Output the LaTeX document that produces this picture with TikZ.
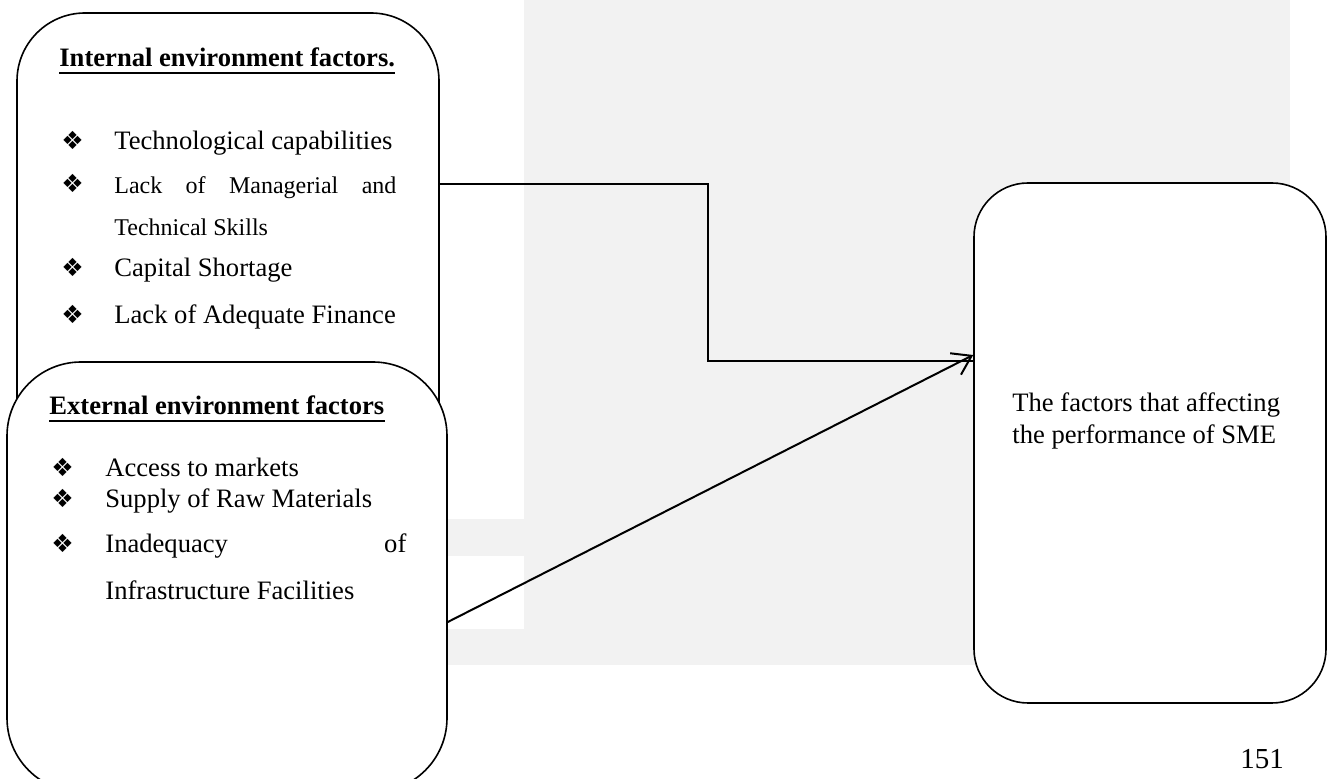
\documentclass[tikz,border=0pt]{standalone}
\usepackage{fontspec}
\setmainfont{Liberation Serif}
\newfontfamily\dejavu{DejaVu Sans}
\usetikzlibrary{arrows.meta}
\definecolor{pagegray}{RGB}{242,242,242}
\begin{document}
\begin{tikzpicture}[x=0.5pt,y=-0.5pt,
  box/.style={draw, line width=0.8pt, fill=white, inner sep=0pt, rectangle},
  txt/.style={inner sep=0pt, anchor=base west, font=\fontsize{13.3}{16}\selectfont},
  smalltxt/.style={inner sep=0pt, anchor=base west, font=\fontsize{12}{14}\selectfont},
  ttl/.style={inner sep=0pt, anchor=base west, font=\fontsize{13.3}{16}\selectfont\bfseries},
  bul/.style={inner sep=0pt, anchor=base west, font=\dejavu\fontsize{12.5}{14}\selectfont},
  uline/.style={line width=0.9pt},
  conn/.style={line width=1pt}]
\useasboundingbox (0,0) rectangle (1328,779);
\clip (0,0) rectangle (1328,779);
% page background
\fill[pagegray] (524,0) rectangle (1290,665);
\fill[pagegray] (448,519) rectangle (524,556);
\fill[pagegray] (448,629) rectangle (524,665);
% boxes
\node[box, rounded corners=34pt, minimum width=211pt, minimum height=293.5pt] (int) at (228,306.5) {};
\node[box, rounded corners=37pt, minimum width=220pt, minimum height=215pt] (ext) at (227,577) {};
\node[box, rounded corners=27pt, minimum width=176pt, minimum height=260pt] (perf) at (1150,443) {};
% internal text
\node[ttl] (t1) at (59,67) {Internal environment factors.};
\draw[uline] ([yshift=-3pt]t1.base west) -- ([yshift=-3pt]t1.base east);
\node[bul] (b1) at (61,150) {❖};
\node[txt] (i1) at (114,150) {Technological capabilities};
\node[bul] (b2) at (61,193) {❖};
\node[smalltxt] (i2) at (114,194) {\hbox to 141pt{Lack\hfill of\hfill Managerial\hfill and}};
\node[smalltxt] (i3) at (114,236) {Technical Skills};
\node[bul] (b3) at (61,277) {❖};
\node[txt] (i4) at (114,277) {Capital Shortage};
\node[bul] (b4) at (61,324) {❖};
\node[txt] (i5) at (114,324) {Lack of Adequate Finance};
% external text
\node[ttl] (t2) at (49,415) {External environment factors};
\draw[uline] ([yshift=-3pt]t2.base west) -- ([yshift=-3pt]t2.base east);
\node[bul] (b5) at (51,477) {❖};
\node[txt] (e1) at (105,477) {Access to markets};
\node[bul] (b6) at (51,508) {❖};
\node[txt] (e2) at (105,508) {Supply of Raw Materials};
\node[bul] (b7) at (51,553) {❖};
\node[txt] (e3) at (105,553) {\hbox to 150.5pt{Inadequacy\hfill of}};
\node[txt] (e4) at (105,600) {Infrastructure Facilities};
% right box text
\node[txt] (r1) at (1012,412) {The factors that affecting};
\node[txt] (r2) at (1012,444) {the performance of SME};
% page number
\node[inner sep=0pt, anchor=base west, font=\fontsize{14.5}{16}\selectfont] (pg) at (1240,769) {151};
% connectors
\draw[conn] ([yshift=61.25pt]int.east) -- ++(268,0) |- ([yshift=41pt]perf.west);
\draw[conn, -{Straight Barb[length=9pt,width=12pt,line width=1pt]}] ([yshift=-22.5pt]ext.east) -- ([yshift=44pt]perf.west);
\end{tikzpicture}
\end{document}
